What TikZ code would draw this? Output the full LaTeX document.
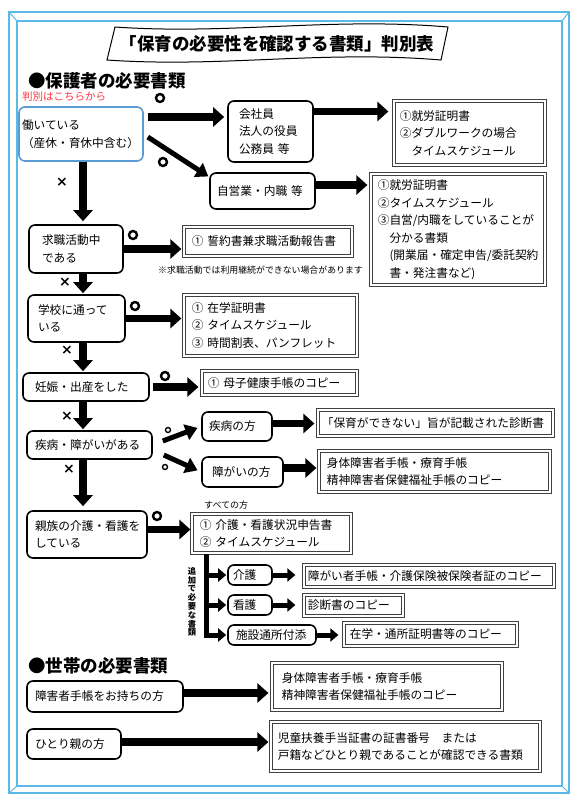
\documentclass[tikz,border=0pt]{standalone}
\usepackage{fontspec}
\setmainfont{Noto Sans CJK JP}
\newfontfamily\markfont{DejaVu Sans}
\usetikzlibrary{arrows.meta,calc}
\definecolor{frameblue}{RGB}{90,185,230}
\definecolor{workblue}{RGB}{91,155,213}
\definecolor{notered}{RGB}{255,50,60}
\tikzset{
  rbox/.style n args={3}{draw, line width=1.6pt, rounded corners=6pt, align=left,
    inner xsep=#3pt, inner ysep=0pt, text width=#1pt-2*#3pt, minimum height=#2pt},
  dbox/.style n args={3}{draw=black!75, line width=0.8pt, double=white, double distance=2.1pt,
    align=left, inner xsep=#3pt, inner ysep=0pt, text width=#1pt-3.6pt-2*#3pt, minimum height=#2pt-3.6pt},
  arr/.style={line width=7.5pt, -{Triangle[length=11pt,width=19pt]}},
  darr/.style={line width=5pt, -{Triangle[length=12pt,width=16pt]}},
  sarr/.style={line width=5pt, line join=miter, -{Triangle[length=8pt,width=13pt]}},
  okmark/.style={circle, draw, line width=2.4pt, minimum size=8pt, inner sep=0pt},
  okdot/.style={circle, draw, line width=1.4pt, minimum size=5pt, inner sep=0pt},
  ngmark/.style={font=\markfont\fontsize{14}{14}\selectfont\bfseries, inner sep=0pt},
  heading/.style={anchor=west, inner sep=0pt, font=\fontsize{17.5}{20}\selectfont\bfseries}
}
\begin{document}
\begin{tikzpicture}[x=1pt, y=-1pt, font=\fontsize{11.7}{17.5}\selectfont]
  \useasboundingbox (0,0) rectangle (581,804);
  % frame
  \draw[frameblue, line width=1.2pt] (9,12) rectangle (569,793) (17,21) rectangle (562,786);
  \draw[frameblue, line width=1pt] (9,12) -- (17,21) (569,12) -- (562,21)
    (9,793) -- (17,786) (569,793) -- (562,786);
  % title ribbon
  \draw[line width=1pt, fill=white] (115,27) .. controls (230,35) and (330,17) .. (448,27)
    -- (441,60) .. controls (322,50) and (222,68) .. (107,60) -- cycle;
  \node[font=\fontsize{17.5}{20}\selectfont\bfseries] (title) at (277,44) {「保育の必要性を確認する書類」判別表};

  \node[heading] (head1) at (28,81) {●保護者の必要書類};
  \node[anchor=west, inner sep=0pt, text=notered, font=\fontsize{10.5}{12}\selectfont] (start) at (22,97) {判別はこちらから};

  \node[rbox={124}{54}{3}, draw=workblue] (work) at (81,134) {働いている\\（産休・育休中含む）};
  \node[rbox={85}{61}{11}] (kaisha) at (270.5,131.5) {会社員\\法人の役員\\公務員 等};
  \node[dbox={155}{68}{6}] (shuro1) at (469.5,133) {①就労証明書\\②ダブルワークの場合\\　タイムスケジュール};
  \node[rbox={105}{36}{7}] (jiei) at (262.5,191) {自営業・内職 等};
  \node[dbox={178}{115}{7}] (shuro2) at (458,229.5) {①就労証明書\\②タイムスケジュール\\③自営/内職をしていることが\\　分かる書類\\　(開業届・確定申告/委託契約\\　書・発注書など)};
  \node[rbox={94}{48}{13}] (kyushoku) at (76,249) {求職活動中\\である};
  \node[dbox={172}{33}{8}] (seiyaku) at (268,241.5) {① 誓約書兼求職活動報告書};
  \node[anchor=west, inner sep=0pt, font=\fontsize{8.9}{10}\selectfont] (note) at (158,270) {※求職活動では利用継続ができない場合があります};
  \node[rbox={97}{47}{10}] (gakko) at (76.5,318.5) {学校に通って\\いる};
  \node[dbox={177}{65}{8}] (zaigaku) at (270.5,325.5) {① 在学証明書\\② タイムスケジュール\\③ 時間割表、パンフレット};
  \node[rbox={126}{28}{12}] (ninshin) at (86,387) {妊娠・出産をした};
  \node[dbox={159}{28}{6}] (boshi) at (279.5,383) {① 母子健康手帳のコピー};
  \node[rbox={125}{28}{8}] (shippei) at (89.5,445) {疾病・障がいがある};
  \node[rbox={70}{29}{7}] (byoki) at (237,426.5) {疾病の方};
  \node[rbox={81}{30}{10}] (shogai) at (242.5,472) {障がいの方};
  \node[dbox={239}{30}{4}] (shindan) at (435.5,423) {「保育ができない」旨が記載された診断書};
  \node[dbox={235}{45}{8}] (techo) at (434.5,471.5) {身体障害者手帳・療育手帳\\精神障害者保健福祉手帳のコピー};
  \node[rbox={120}{47}{8}] (shinzoku) at (87,534.5) {親族の介護・看護を\\している};
  \node[anchor=west, inner sep=0pt, font=\fontsize{9}{10}\selectfont] (allnote) at (204,505) {すべての方};
  \node[dbox={163}{43}{8}] (kaigoall) at (271.5,533.5) {① 介護・看護状況申告書\\② タイムスケジュール};
  \node[align=center, inner sep=0pt, font=\fontsize{8.3}{8.8}\selectfont\bfseries] (extra) at (192,602) {追\\加\\で\\必\\要\\な\\書\\類};
  \node[rbox={44}{20}{5}] (kaigo) at (250,575) {介護};
  \node[rbox={44}{20}{5}] (kango) at (250,605) {看護};
  \node[rbox={88}{20}{8}] (shisetsu) at (272,635) {施設通所付添};
  \node[dbox={254}{26}{4}] (hoken) at (429,576) {障がい者手帳・介護保険被保険者証のコピー};
  \node[dbox={103}{25}{4}] (shindan2) at (353.5,605.5) {診断書のコピー};
  \node[dbox={177}{27}{6}] (tsusho) at (430.5,634.5) {在学・通所証明書等のコピー};

  \node[heading] (head2) at (28,666) {●世帯の必要書類};
  \node[rbox={156}{31}{8}] (setai1) at (105,696.5) {障害者手帳をお持ちの方};
  \node[dbox={234}{51}{10}] (setai1doc) at (387,686.5) {身体障害者手帳・療育手帳\\精神障害者保健福祉手帳のコピー};
  \node[rbox={94}{30}{8}] (setai2) at (74,744) {ひとり親の方};
  \node[dbox={273}{53}{7}] (setai2doc) at (405.5,746.5) {児童扶養手当証書の証書番号　または\\戸籍などひとり親であることが確認できる書類};

  % yes / no marks
  \node[okmark] (ok1) at (160,98) {};
  \node[okmark] (ok2) at (163,162) {};
  \node[okmark] (ok3) at (133,235) {};
  \node[okmark] (ok4) at (135,306) {};
  \node[okmark] (ok5) at (165,376) {};
  \node[okdot] (ok6) at (168,430) {};
  \node[okdot] (ok7) at (165,467) {};
  \node[okmark] (ok8) at (157,516) {};
  \node[ngmark] (ng1) at (62,182) {×};
  \node[ngmark] (ng2) at (65,282) {×};
  \node[ngmark] (ng3) at (67,350) {×};
  \node[ngmark] (ng4) at (67,416) {×};
  \node[ngmark] (ng5) at (69,469) {×};

  \begin{scope}[arr]
    \draw[shorten >=3pt] ($(work.east)+(4,-17)$) coordinate (p) -- (p -| kaisha.west);
    \draw[shorten >=5pt] ($(kaisha.east)+(0,-20)$) coordinate (p) -- (p -| shuro1.west);
    \draw[darr, shorten >=1pt] ($(work.east)+(4,3)$) -- ($(jiei.west)+(0,-14)$);
    \draw[shorten >=3pt] ($(jiei.east)+(0,-6)$) coordinate (p) -- (p -| shuro2.west);
    \draw[shorten >=3pt] ($(work.south)+(2,0)$) coordinate (p) -- (p |- kyushoku.north);
    \draw[shorten >=2pt] (kyushoku.east) -- (kyushoku.east -| seiyaku.west);
    \draw[shorten >=1pt] ($(kyushoku.south)+(7,0)$) coordinate (p) -- (p |- gakko.north);
    \draw[shorten >=2pt] (gakko.east) -- (gakko.east -| zaigaku.west);
    \draw[shorten >=1pt] ($(gakko.south)+(6.5,0)$) coordinate (p) -- (p |- ninshin.north);
    \draw[shorten >=3pt] ($(ninshin.east)+(3,0)$) coordinate (p) -- (p -| boshi.west);
    \draw[shorten >=1pt] ($(ninshin.south)+(-3,0)$) coordinate (p) -- (p |- shippei.north);
    \draw[darr, shorten >=4pt] ($(shippei.east)+(10,-4)$) -- (byoki.west);
    \draw[darr, shorten >=4pt] ($(shippei.east)+(11,10)$) -- (shogai.west);
    \draw[shorten >=3pt] ($(byoki.east)+(0,-3)$) coordinate (p) -- (p -| shindan.west);
    \draw[shorten >=2pt] ($(shogai.east)+(0,-4)$) coordinate (p) -- (p -| techo.west);
    \draw[shorten >=4pt] ($(shippei.south)+(-6.5,0)$) coordinate (p) -- (p |- shinzoku.north);
    \draw[shorten >=1pt] ($(shinzoku.east)+(0,-5)$) coordinate (p) -- (p -| kaigoall.west);
    \draw[sarr, shorten >=1pt] ($(kaigoall.south west)+(15,0)$) coordinate (b0) -- (b0 |- shisetsu.west) -- (shisetsu.west);
    \draw[sarr, shorten >=1pt] (b0 |- kaigo.west) -- (kaigo.west);
    \draw[sarr, shorten >=1pt] (b0 |- kango.west) -- (kango.west);
    \draw[sarr, shorten >=8pt] (kaigo.east) -- (kaigo.east -| hoken.west);
    \draw[sarr, shorten >=8pt] (kango.east) -- (kango.east -| shindan2.west);
    \draw[sarr, shorten >=5pt] (shisetsu.east) -- (shisetsu.east -| tsusho.west);
    \draw[shorten >=3pt] ($(setai1.east)+(0,-3.5)$) coordinate (p) -- (p -| setai1doc.west);
    \draw[shorten >=2pt] ($(setai2.east)+(0,-2)$) coordinate (p) -- (p -| setai2doc.west);
  \end{scope}
\end{tikzpicture}
\end{document}
